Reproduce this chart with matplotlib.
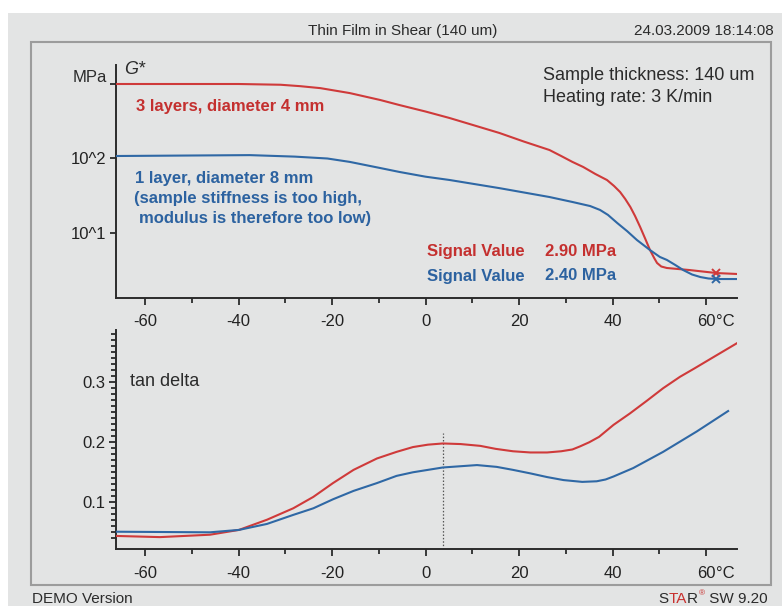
import matplotlib
matplotlib.use("Agg")
import matplotlib.pyplot as plt
from matplotlib.patches import Rectangle
from matplotlib.ticker import FixedLocator, NullLocator

plt.rcParams["font.family"] = ["Liberation Sans", "DejaVu Sans"]

# G* (MPa) vs temperature (deg C)
g_red_temp = [-66.3, -40.0, -31.0, -26.8, -22.5, -16.2, -9.7, -5.6, 0.0, 5.1, 10.5, 15.8, 21.0,
              26.5, 29.0, 31.4, 33.7, 36.3, 38.8, 40.3, 41.6, 42.7, 43.8, 44.8, 45.9, 47.0, 48.0,
              48.9, 49.5, 50.4, 51.6, 56.5, 62.2, 66.5]
g_red_val = [1000, 1000, 977, 935, 880, 755, 610, 522, 427, 350, 277, 220, 169,
             130, 108, 90, 77, 62, 51.4, 42.8, 35.5, 28.6, 22.3, 16.9, 12.0, 8.3, 5.9,
             4.6, 3.96, 3.55, 3.39, 3.18, 2.90, 2.82]
g_blue_temp = [-66.3, -37.6, -28.0, -21.0, -16.2, -9.7, -5.6, 0.0, 5.1, 15.8, 26.5, 31.5,
               35.2, 37.3, 39.0, 41.0, 43.1, 45.2, 48.0, 50.1, 51.6, 53.4, 55.1, 57.0,
               58.8, 60.5, 62.4, 66.5]
g_blue_val = [108, 111, 106, 100, 90, 74.5, 66, 57, 51.5, 40, 30.4, 26,
              23, 20.4, 17.5, 13.6, 10.6, 8.05, 5.9, 4.77, 4.35, 3.72, 3.18, 2.77,
              2.56, 2.45, 2.41, 2.41]

# tan delta vs temperature
td_red_temp = [-66.4, -56.8, -46.1, -39.9, -33.9, -28.3, -24.0, -19.8, -15.4, -10.4, -6.2, -2.7,
               0.5, 3.7, 7.5, 11.7, 15.0, 18.7, 22.4, 26.0, 29.0, 31.4, 33.0, 35.0, 37.1, 40.2, 43.7,
               47.3, 50.8, 54.4, 57.5, 61.6, 66.8]
td_red_val = [0.043, 0.041, 0.045, 0.053, 0.070, 0.089, 0.108, 0.131, 0.153, 0.172, 0.183, 0.191,
              0.195, 0.197, 0.196, 0.193, 0.188, 0.184, 0.182, 0.182, 0.184, 0.187, 0.192, 0.199, 0.208,
              0.228, 0.247, 0.268, 0.289, 0.308, 0.322, 0.341, 0.365]
td_blue_temp = [-66.4, -46.1, -39.9, -33.9, -28.3, -24.0, -19.8, -15.4, -10.4, -6.2, -2.7, 3.7,
                11.0, 15.2, 18.7, 22.5, 26.0, 29.5, 33.5, 36.6, 38.5, 40.2, 44.4, 50.8, 58.0, 64.7]
td_blue_val = [0.050, 0.049, 0.053, 0.063, 0.078, 0.089, 0.104, 0.118, 0.131, 0.143, 0.149, 0.157,
               0.161, 0.158, 0.153, 0.147, 0.141, 0.136, 0.133, 0.134, 0.137, 0.142, 0.156, 0.183,
               0.217, 0.251]

signal_temp = 62.2
signal_red = 2.90
signal_blue = 2.41
cursor_temp = 3.8
cursor_top = 0.215

x_major = [-60, -40, -20, 0, 20, 40, 60]
x_labels = ["-60", "-40", "-20", "0", "20", "40", "60"]

RED = "#cf3a3a"
RED_TXT = "#c4302f"
BLUE = "#2f68a5"
BLUE_TXT = "#2c62a0"
BG = "#e3e4e4"
INK = "#2b2b2b"

W, H = 782, 606
fig = plt.figure(figsize=(W / 100, H / 100), dpi=100, facecolor="white")


def px(x, y):
    return x / W, 1 - y / H


def ftext(x, y, s, **kw):
    kw.setdefault("va", "center")
    kw.setdefault("ha", "left")
    kw.setdefault("color", INK)
    return fig.text(*px(x, y), s, **kw)


# page background and frame
fig.patches.append(Rectangle(px(8, 606), (W - 8) / W, (606 - 13) / H,
                             transform=fig.transFigure, facecolor=BG, edgecolor="none", zorder=-2))
fig.patches.append(Rectangle(px(31, 585), (771 - 31) / W, (585 - 42) / H,
                             transform=fig.transFigure, facecolor="none", edgecolor="#9c9c9c",
                             linewidth=1.5, zorder=-1))

ax1 = fig.add_axes([116 / W, 1 - 298 / H, (737 - 116) / W, (298 - 65) / H])
ax2 = fig.add_axes([116 / W, 1 - 549.3 / H, (737 - 116) / W, (549.3 - 330) / H])

XPAD = 6.7


def style_axis(ax):
    ax.set_facecolor("none")
    for side in ("top", "right"):
        ax.spines[side].set_visible(False)
    for side in ("left", "bottom"):
        ax.spines[side].set_color(INK)
        ax.spines[side].set_linewidth(1.4)
    ax.set_xlim(-66.2, 66.6)
    ax.xaxis.set_major_locator(FixedLocator(x_major))
    ax.set_xticklabels(x_labels)
    ax.xaxis.set_minor_locator(FixedLocator([-50, -30, -10, 10, 30, 50]))
    ax.tick_params(which="both", colors=INK, width=1.3, labelsize=12, labelcolor="#222222")
    ax.tick_params(axis="x", which="major", length=5, pad=XPAD)
    ax.tick_params(axis="x", which="minor", length=3.6)
    ax.annotate("°C", xy=(62.1, 0), xycoords=("data", "axes fraction"),
                xytext=(0, -(5 + XPAD)), textcoords="offset points", ha="left", va="top",
                fontsize=12, color="#222222")


# upper panel: G*
style_axis(ax1)
ax1.set_yscale("log")
ax1.set_ylim(1.341, 1799)
ax1.yaxis.set_major_locator(FixedLocator([10, 100, 1000]))
ax1.yaxis.set_minor_locator(NullLocator())
ax1.set_yticklabels(["10^1", "10^2", ""])
ax1.tick_params(axis="y", length=4.5, pad=2.5)
ax1.plot(g_red_temp, g_red_val, color=RED, lw=1.5, zorder=3)
ax1.plot(g_blue_temp, g_blue_val, color=BLUE, lw=1.5, zorder=3)
ax1.plot([signal_temp], [signal_red], marker="x", color=RED, ms=6, mew=1.4, zorder=4)
ax1.plot([signal_temp], [signal_blue], marker="x", color=BLUE, ms=6, mew=1.4, zorder=4)

# lower panel: tan delta
style_axis(ax2)
ax2.set_ylim(0.0207, 0.386)
ax2.yaxis.set_major_locator(FixedLocator([0.1, 0.2, 0.3]))
ax2.yaxis.set_minor_locator(FixedLocator([v / 100 for v in range(4, 39) if v % 10]))
ax2.set_yticklabels(["0.1", "0.2", "0.3"])
ax2.tick_params(axis="y", which="major", length=5, pad=2.5)
ax2.tick_params(axis="y", which="minor", length=3.6)
ax2.plot(td_red_temp, td_red_val, color=RED, lw=1.5, zorder=3)
ax2.plot(td_blue_temp, td_blue_val, color=BLUE, lw=1.5, zorder=3)
ax2.plot([cursor_temp, cursor_temp], [0.0207, cursor_top], color="#555555", lw=0.9,
         linestyle=(0, (1.2, 1.5)), zorder=2)

# header / footer
ftext(403, 31, "Thin Film in Shear (140 um)", ha="center", fontsize=11)
ftext(774, 31, "24.03.2009 18:14:08", ha="right", fontsize=11)
ftext(32, 599, "DEMO Version", fontsize=11)

# "STAR(R) SW 9.20" built right to left so the pieces sit side by side
renderer = fig.canvas.get_renderer()
right = 768
for part, col, size, dy, gap in [(" SW 9.20", INK, 11, 0, 0), ("®", "#c8302e", 6, -5, 0.5),
                                 ("R", INK, 11, 0, 0), ("TA", "#c8302e", 11, 0, 0),
                                 ("S", INK, 11, 0, 0)]:
    t = ftext(right - gap, 599 + dy, part, ha="right", fontsize=size, color=col)
    right = t.get_window_extent(renderer).x0 - gap

# annotations in the G* panel
ftext(107, 78, "MPa", ha="right", fontsize=12)
ftext(124, 69, "G*", fontsize=13, style="italic")
ftext(136, 107, "3 layers, diameter 4 mm", fontsize=12, fontweight="bold", color=RED_TXT)
ftext(135, 178, "1 layer, diameter 8 mm", fontsize=12, fontweight="bold", color=BLUE_TXT)
ftext(134, 198.5, "(sample stiffness is too high,", fontsize=12, fontweight="bold", color=BLUE_TXT)
ftext(139, 219, "modulus is therefore too low)", fontsize=12, fontweight="bold", color=BLUE_TXT)
ftext(543, 76, "Sample thickness: 140 um", fontsize=13)
ftext(543, 97, "Heating rate: 3 K/min", fontsize=13)
ftext(427, 251, "Signal Value", fontsize=12, fontweight="bold", color=RED_TXT)
ftext(545, 251, "2.90 MPa", fontsize=12, fontweight="bold", color=RED_TXT)
ftext(427, 276, "Signal Value", fontsize=12, fontweight="bold", color=BLUE_TXT)
ftext(545, 276, "2.40 MPa", fontsize=12, fontweight="bold", color=BLUE_TXT)
ftext(130, 382, "tan delta", fontsize=13)

fig.savefig("out.png", dpi=100, facecolor="white")
